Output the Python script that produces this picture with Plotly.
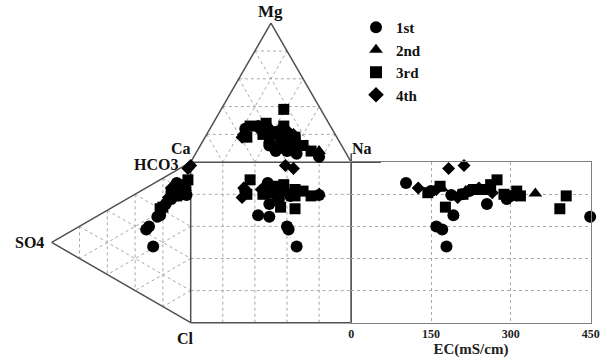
import plotly.graph_objects as go

# ---------------- data (percent of meq, EC in mS/cm) ----------------
series_names = ["1st", "2nd", "3rd", "4th"]
series_symbols = ["circle", "triangle-up", "square", "diamond"]
series_sizes = [12, 12, 11, 10]

s1_ca = [41, 36, 34, 31, 45, 45, 40, 44, 43, 33, 28, 54, 18]
s1_mg = [22, 8, 10, 6, 26, 12, 10, 14, 8, 18, 20, 24, 4]
s1_na = [37, 56, 56, 63, 29, 43, 50, 42, 49, 49, 52, 22, 78]
s1_hco3 = [82, 45, 42, 34, 56, 65, 70, 54, 77, 80, 73, 78, 78]
s1_so4 = [10, 30, 32, 27, 22, 18, 14, 24, 6, 4, 12, 8, 3]
s1_cl = [8, 25, 26, 39, 22, 17, 16, 22, 17, 16, 15, 14, 19]
s1_ec = [103, 160, 171, 179, 192, 255, 292, 449, 208, 222, 300, 150, 188]

s2_ca = [16, 35, 38]
s2_mg = [8, 20, 24]
s2_na = [76, 45, 38]
s2_hco3 = [78, 78, 82]
s2_so4 = [5, 8, 4]
s2_cl = [17, 14, 14]
s2_ec = [346, 215, 170]

s3_ca = [39, 37, 36, 27, 23, 50, 24, 21, 26, 28, 45, 29, 56]
s3_mg = [28, 22, 16, 16, 38, 26, 12, 8, 18, 14, 20, 26, 18]
s3_na = [33, 41, 48, 57, 39, 24, 64, 71, 56, 58, 35, 45, 26]
s3_hco3 = [76, 82, 62, 80, 84, 88, 78, 74, 72, 60, 73, 79, 74]
s3_so4 = [10, 6, 20, 6, 4, 2, 8, 10, 14, 22, 14, 8, 12]
s3_cl = [14, 12, 18, 14, 12, 10, 14, 16, 14, 18, 13, 13, 14]
s3_ec = [144, 167, 177, 248, 262, 274, 311, 318, 404, 392, 210, 230, 287]

s4_ca = [57, 26, 29, 41, 45, 32, 59, 32]
s4_mg = [20, 20, 24, 18, 22, 16, 18, 24]
s4_na = [23, 54, 47, 41, 33, 52, 23, 44]
s4_hco3 = [77, 95, 98, 79, 78, 77, 70, 82]
s4_so4 = [14, 2, 0, 6, 10, 8, 16, 4]
s4_cl = [9, 3, 2, 15, 12, 15, 14, 14]
s4_ec = [126, 183, 212, 220, 160, 265, 200, 240]

ec_ticks = [0, 150, 300, 450]
grid_steps = [20, 40, 60, 80]

series_data = [
    (s1_ca, s1_mg, s1_na, s1_hco3, s1_so4, s1_cl, s1_ec),
    (s2_ca, s2_mg, s2_na, s2_hco3, s2_so4, s2_cl, s2_ec),
    (s3_ca, s3_mg, s3_na, s3_hco3, s3_so4, s3_cl, s3_ec),
    (s4_ca, s4_mg, s4_na, s4_hco3, s4_so4, s4_cl, s4_ec),
]

H = 0.8660254  # sqrt(3)/2


def cation_xy(ca, mg, na):
    return na + mg / 2.0, 100 + H * mg


def anion_xy(hco3, so4, cl):
    return -H * so4, hco3 + so4 / 2.0


def square_xy(ca, mg, na, hco3, so4, cl):
    return na + mg / 2.0, hco3 + so4 / 2.0


# ---------------- figure geometry ----------------
W, HT = 607, 363
S = 1.605          # px per percent unit
X0_PX, Y0_PX = 190.7, 322.7   # pixel of square's lower-left corner
x_range = [-X0_PX / S, (W - X0_PX) / S]
y_range = [-(HT - Y0_PX) / S, Y0_PX / S]

fig = go.Figure()

FONT = "Liberation Serif"
LINE = "#505050"
GRID = "#a8a8a8"

for name, sym, size, data in zip(series_names, series_symbols, series_sizes, series_data):
    ca, mg, na, hco3, so4, cl, ec = data
    xs, ys = [], []
    for i in range(len(ca)):
        cx, cy = cation_xy(ca[i], mg[i], na[i])
        ax, ay = anion_xy(hco3[i], so4[i], cl[i])
        sx, sy = square_xy(ca[i], mg[i], na[i], hco3[i], so4[i], cl[i])
        xs += [cx, ax, sx]
        ys += [cy, ay, sy]
    fig.add_trace(go.Scatter(
        x=xs, y=ys, mode="markers", name=name, legendgroup=name,
        marker=dict(symbol=sym, size=size, color="black"),
        cliponaxis=False, xaxis="x", yaxis="y"))
    ec_y = [hco3[i] + so4[i] / 2.0 for i in range(len(ca))]
    fig.add_trace(go.Scatter(
        x=ec, y=ec_y, mode="markers", name=name, legendgroup=name, showlegend=False,
        marker=dict(symbol=sym, size=size, color="black"),
        cliponaxis=False, xaxis="x2", yaxis="y2"))

shapes = []


def seg(p, q, color=GRID, width=1, dash="dot", xref="x", yref="y"):
    shapes.append(dict(type="line", x0=p[0], y0=p[1], x1=q[0], y1=q[1], xref=xref, yref=yref,
                       line=dict(color=color, width=width, dash=dash), layer="below"))


# square grid
for k in grid_steps:
    seg((k, 0), (k, 100))
    seg((0, k), (100, k))

# cation triangle grid
for k in grid_steps:
    seg(cation_xy(100 - k, k, 0), cation_xy(0, k, 100 - k))
    seg(cation_xy(k, 100 - k, 0), cation_xy(k, 0, 100 - k))
    seg(cation_xy(100 - k, 0, k), cation_xy(0, 100 - k, k))

# anion triangle grid
for k in grid_steps:
    seg(anion_xy(100 - k, k, 0), anion_xy(0, k, 100 - k))
    seg(anion_xy(k, 100 - k, 0), anion_xy(k, 0, 100 - k))
    seg(anion_xy(100 - k, 0, k), anion_xy(0, 100 - k, k))

# outlines
ca_v, mg_v, na_v = cation_xy(100, 0, 0), cation_xy(0, 100, 0), cation_xy(0, 0, 100)
hc_v, so_v, cl_v = anion_xy(100, 0, 0), anion_xy(0, 100, 0), anion_xy(0, 0, 100)
seg(ca_v, mg_v, LINE, 1.5, "solid")
seg(mg_v, na_v, LINE, 1.5, "solid")
seg(hc_v, so_v, LINE, 1.5, "solid")
seg(so_v, cl_v, LINE, 1.5, "solid")
seg((0, 100), (118.5, 100), LINE, 1.5, "solid")
seg((0, 0), (0, 100), LINE, 1.5, "solid")
seg((100, 0), (100, 105.5), LINE, 1.5, "solid")
seg((0, 0), (100, 0), LINE, 1.5, "solid")

# annotations
ann = []
lab_font = dict(family=FONT, size=17, color="#111", weight="bold")


def label(text, pt, xanchor, yanchor, xshift=0, yshift=0, size=17):
    f = dict(lab_font)
    f["size"] = size
    ann.append(dict(text=text, x=pt[0], y=pt[1], xref="x", yref="y", showarrow=False,
                    xanchor=xanchor, yanchor=yanchor, xshift=xshift, yshift=yshift, font=f))


label("Mg", mg_v, "center", "bottom", 0, 0, 17)
label("Ca", ca_v, "right", "bottom", 2, 3, 16)
label("Na", na_v, "left", "bottom", -1, 3, 16)
label("HCO3", hc_v, "right", "middle", -11, -2, 16)
label("SO4", so_v, "right", "middle", -6, 0, 16)
label("Cl", cl_v, "center", "top", -5, -5, 16)

y2_dom = [(HT - Y0_PX) / HT, (HT - (Y0_PX - 100 * S)) / HT]
x2_dom = [(X0_PX + 100 * S) / W, 590.7 / W]

fig.update_layout(
    width=W, height=HT, autosize=False,
    margin=dict(l=0, r=0, t=0, b=0, autoexpand=False),
    paper_bgcolor="white", plot_bgcolor="rgba(0,0,0,0)",
    shapes=shapes, annotations=ann,
    xaxis=dict(domain=[0, 1], range=x_range, visible=False, fixedrange=True, automargin=False),
    yaxis=dict(domain=[0, 1], range=y_range, visible=False, fixedrange=True, automargin=False),
    xaxis2=dict(domain=x2_dom, range=[0, 450], anchor="y2", tickvals=ec_ticks,
                showline=True, mirror=True, linecolor="#808080", linewidth=1.2,
                showgrid=True, gridcolor=GRID, griddash="dot", gridwidth=1, zeroline=False,
                ticks="", fixedrange=True, automargin=False,
                tickfont=dict(family=FONT, size=12, color="#222", weight="bold"),
                title=dict(text="EC(mS/cm)", standoff=2,
                           font=dict(family=FONT, size=15, color="#222", weight="bold"))),
    yaxis2=dict(domain=y2_dom, range=[0, 100], anchor="x2", tickvals=grid_steps,
                showticklabels=False, showline=True, mirror=True, linecolor="#808080",
                linewidth=1.2, showgrid=True, gridcolor=GRID, griddash="dot", gridwidth=1,
                zeroline=False, ticks="", fixedrange=True, automargin=False),
    legend=dict(x=356 / W, y=1 - 11 / HT, xanchor="left", yanchor="top",
                bgcolor="rgba(0,0,0,0)", tracegroupgap=0, itemsizing="constant",
                font=dict(family=FONT, size=15, color="#111", weight="bold")),
    showlegend=True,
)

fig.write_html("out.html",
               config={"displayModeBar": False, "responsive": False},
               post_script="document.body.style.margin='0';document.body.style.overflow='hidden';")
